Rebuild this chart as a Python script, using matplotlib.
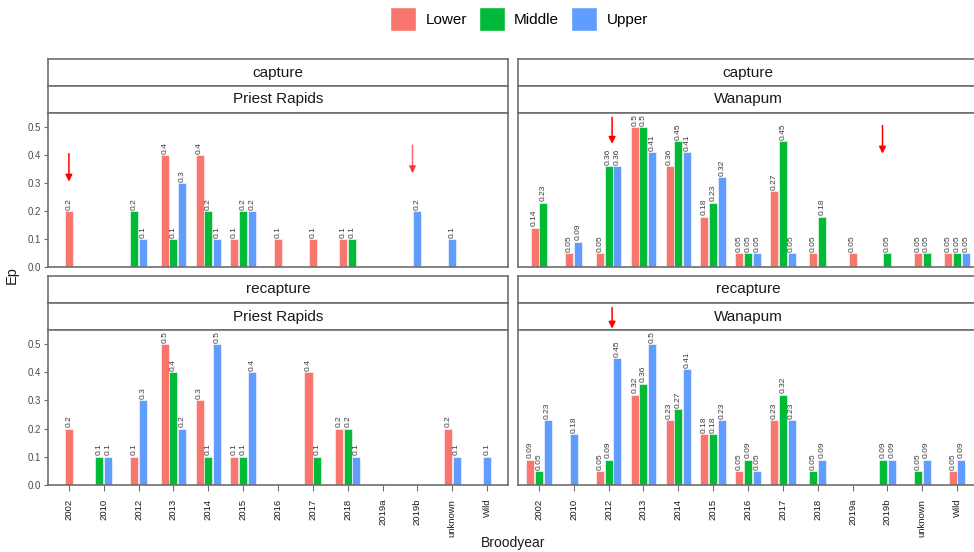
import matplotlib.pyplot as plt
from matplotlib.patches import Patch

plt.rcParams['font.family'] = ['Liberation Sans', 'DejaVu Sans']

years = ['2002', '2010', '2012', '2013', '2014', '2015', '2016', '2017',
         '2018', '2019a', '2019b', 'unknown', 'Wild']
groups = ['Lower', 'Middle', 'Upper']
colors = ['#F8766D', '#00BA38', '#619CFF']

# capture / Priest Rapids
cap_pr_lower = [0.2, None, None, 0.4, 0.4, 0.1, 0.1, 0.1, 0.1, None, None, None, None]
cap_pr_middle = [None, None, 0.2, 0.1, 0.2, 0.2, None, None, 0.1, None, None, None, None]
cap_pr_upper = [None, None, 0.1, 0.3, 0.1, 0.2, None, None, None, None, 0.2, 0.1, None]

# capture / Wanapum
cap_wa_lower = [0.14, 0.05, 0.05, 0.5, 0.36, 0.18, 0.05, 0.27, 0.05, 0.05, None, 0.05, 0.05]
cap_wa_middle = [0.23, None, 0.36, 0.5, 0.45, 0.23, 0.05, 0.45, 0.18, None, 0.05, 0.05, 0.05]
cap_wa_upper = [None, 0.09, 0.36, 0.41, 0.41, 0.32, 0.05, 0.05, None, None, None, None, 0.05]

# recapture / Priest Rapids
rec_pr_lower = [0.2, None, 0.1, 0.5, 0.3, 0.1, None, 0.4, 0.2, None, None, 0.2, None]
rec_pr_middle = [None, 0.1, None, 0.4, 0.1, 0.1, None, 0.1, 0.2, None, None, None, None]
rec_pr_upper = [None, 0.1, 0.3, 0.2, 0.5, 0.4, None, None, 0.1, None, None, 0.1, 0.1]

# recapture / Wanapum
rec_wa_lower = [0.09, None, 0.05, 0.32, 0.23, 0.18, 0.05, 0.23, None, None, None, None, 0.05]
rec_wa_middle = [0.05, None, 0.09, 0.36, 0.27, 0.18, 0.09, 0.32, 0.05, None, 0.09, 0.05, None]
rec_wa_upper = [0.23, 0.18, 0.45, 0.5, 0.41, 0.23, 0.05, 0.23, 0.09, None, 0.09, 0.09, 0.09]

panels = [
    ('capture', 'Priest Rapids', [cap_pr_lower, cap_pr_middle, cap_pr_upper]),
    ('capture', 'Wanapum', [cap_wa_lower, cap_wa_middle, cap_wa_upper]),
    ('recapture', 'Priest Rapids', [rec_pr_lower, rec_pr_middle, rec_pr_upper]),
    ('recapture', 'Wanapum', [rec_wa_lower, rec_wa_middle, rec_wa_upper]),
]

# red markers: (panel, x, y_start, y_end, alpha)
arrows = [
    (0, 0.0, 0.405, 0.305, 1.0),
    (0, 9.86, 0.435, 0.335, 0.6),
    (1, 2.1, 0.535, 0.44, 1.0),
    (1, 9.86, 0.505, 0.405, 1.0),
    (3, 2.1, 0.63, 0.555, 1.0),
]

W, H = 974, 552
fig = plt.figure(figsize=(W / 100, H / 100), dpi=100)

edge = '#6e6e6e'
slot = 0.25
bar_w = 0.23

# pixel boxes (left, top, right, bottom) for each panel
boxes = [(48, 113, 508, 267), (518, 113, 978, 267),
         (48, 330, 508, 485), (518, 330, 978, 485)]
strip_h = 27


def fbox(l, t, r, b):
    return [l / W, 1 - b / H, (r - l) / W, (b - t) / H]


axes = []
for k, (top, sub, series) in enumerate(panels):
    l, t, r, b = boxes[k]
    # strip labels
    for j, txt in enumerate([top, sub]):
        st = t - strip_h * (2 - j)
        sax = fig.add_axes(fbox(l, st, r, st + strip_h), zorder=1)
        sax.set_xticks([])
        sax.set_yticks([])
        for s in sax.spines.values():
            s.set_color(edge)
            s.set_linewidth(1.2)
        sax.text(0.5, 0.5, txt, ha='center', va='center', fontsize=11,
                 color='#1a1a1a', transform=sax.transAxes)

    ax = fig.add_axes(fbox(l, t, r, b), zorder=3)
    axes.append(ax)
    for i, y in enumerate(years):
        present = [(g, series[g][i]) for g in range(3) if series[g][i] is not None]
        n = len(present)
        for j, (g, v) in enumerate(present):
            x = i + (j - (n - 1) / 2) * slot
            ax.bar(x, v, width=bar_w, color=colors[g], edgecolor='white',
                   linewidth=0.4)
            ax.text(x, v + 0.005, f'{v:g}', rotation=90, ha='center',
                    va='bottom', fontsize=6, color='#3a3a3a')
    ax.set_xlim(-0.6, len(years) - 0.4)
    ax.set_ylim(0, 0.55)
    for s in ax.spines.values():
        s.set_color(edge)
        s.set_linewidth(1.2)
    if k % 2 == 0:
        ax.set_yticks([0, 0.1, 0.2, 0.3, 0.4, 0.5])
        ax.set_yticklabels(['0.0', '0.1', '0.2', '0.3', '0.4', '0.5'],
                           fontsize=7, color='#4d4d4d')
        ax.tick_params(axis='y', length=3, color=edge, pad=2)
    else:
        ax.set_yticks([])
    if k >= 2:
        ax.set_xticks(range(len(years)))
        ax.set_xticklabels(years, rotation=90, fontsize=6.8, color='#1a1a1a')
        ax.tick_params(axis='x', length=4, color=edge, pad=6)
    else:
        ax.set_xticks([])

for k, x, y0, y1, a in arrows:
    axes[k].annotate('', xy=(x, y1), xytext=(x, y0), annotation_clip=False,
                     arrowprops=dict(arrowstyle='-|>', color='red', lw=1.1,
                                     mutation_scale=10, alpha=a,
                                     shrinkA=0, shrinkB=0))

fig.text(12 / W, 1 - 275 / H, 'Ep', rotation=90, ha='center', va='center',
         fontsize=10.5, color='#1a1a1a')
fig.text(513 / W, 1 - 543 / H, 'Broodyear', ha='center', va='center',
         fontsize=10, color='#1a1a1a')

handles = [Patch(facecolor=c, edgecolor='white', label=g) for g, c in zip(groups, colors)]
fig.legend(handles=handles, loc='center', bbox_to_anchor=(519 / W, 1 - 19 / H),
           ncol=3, frameon=False, fontsize=11, handlelength=1.7,
           handleheight=2.0, handletextpad=0.6, columnspacing=0.8)

fig.savefig('out.png', dpi=100)
